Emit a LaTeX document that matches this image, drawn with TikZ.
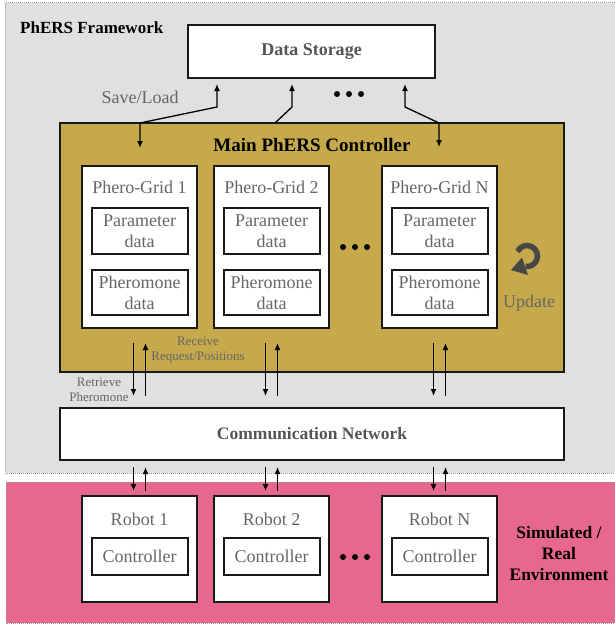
\documentclass[tikz,border=0pt]{standalone}
\usepackage{fontspec}
\setmainfont{Liberation Serif}
\usetikzlibrary{arrows.meta,calc}

\definecolor{frameworkgray}{HTML}{E0E0E0}
\definecolor{ctrlgold}{HTML}{C5A94A}
\definecolor{envpink}{HTML}{E8678C}
\definecolor{labelgray}{HTML}{666666}
\definecolor{titlegray}{HTML}{555555}
\definecolor{icongray}{HTML}{474747}

\newcommand{\fs}[2]{\fontsize{#1}{#2}\selectfont}

\tikzset{
  box/.style={draw=black!90, line width=2pt, fill=white, inner sep=0pt},
  innerbox/.style={draw=black!90, line width=2pt, fill=white, inner sep=0pt,
    minimum width=96pt, align=center, text=labelgray, font=\fs{18}{21}},
  plainlabel/.style={text=labelgray, font=\fs{18}{20}, inner sep=0pt, align=center},
  smalllabel/.style={text=labelgray, font=\fs{13}{15}, inner sep=0pt, align=center},
  flow/.style={line width=1.3pt, -{Latex[length=7pt,width=6pt]}},
  twoway/.style={line width=1.3pt, {Latex[length=7pt,width=6pt]}-{Latex[length=7pt,width=6pt]}},
  region/.style={draw=gray!80, densely dotted, line width=1pt},
  dotmark/.style={circle, fill=black, inner sep=0pt, minimum size=6pt}
}

\begin{document}
\begin{tikzpicture}[x=1pt, y=-1pt]
\useasboundingbox (0,0) rectangle (615,626);
\begin{scope}
\clip (0,0) rectangle (615,626);
% outer regions
\draw[region, fill=frameworkgray] (5,3) rectangle (640,473);
\draw[region, fill=envpink] (6,482) rectangle (640,623);
\end{scope}

\node[anchor=west, font=\bfseries\fs{17}{20}, inner sep=0pt] (fwlabel) at (20,28) {PhERS Framework};

% storage
\node[box, minimum width=247pt, minimum height=53pt, text=titlegray, font=\bfseries\fs{18}{20}] (store) at (311.5,51.5) {Data Storage};
\node[plainlabel] (savelabel) at (140,97) {Save/Load};

% main controller
\node[box, fill=ctrlgold, minimum width=504pt, minimum height=249pt] (ctrl) at (312,247.5) {};
\node[font=\bfseries\fs{19}{21}, inner sep=0pt] (ctrltitle) at (312,145) {Main PhERS Controller};

% phero-grids
\foreach \id/\cx/\lab in {g1/139.5/Phero-Grid 1, g2/271.5/Phero-Grid 2, gn/439.5/Phero-Grid N}{
  \node[box, minimum width=115pt, minimum height=162pt] (\id) at (\cx,247) {};
  \node[plainlabel] (\id t) at (\cx,187) {\lab};
  \node[innerbox, minimum height=46pt] (\id p) at (\cx,231) {Parameter\\data};
  \node[innerbox, minimum height=45pt] (\id h) at (\cx,292.5) {Pheromone\\data};
}

% update icon: clockwise ring open on the left, head at lower left
\coordinate (updc) at (527,256);
\draw[icongray, line width=5.5pt] ($(updc)+(205:10.5)$) arc[start angle=205, end angle=458, radius=10.5];
\fill[icongray] (511,270) -- (522,257.5) -- (528,275) -- cycle;
\node[plainlabel] (updlabel) at (529,303) {Update};

% communication network
\node[box, minimum width=504pt, minimum height=52pt, text=titlegray, font=\bfseries\fs{17.5}{20}] (comm) at (312,434) {Communication Network};

% robots
\foreach \id/\cx/\lab in {r1/139.5/Robot 1, r2/271.5/Robot 2, rn/439.5/Robot N}{
  \node[box, minimum width=115pt, minimum height=106pt] (\id) at (\cx,549) {};
  \node[plainlabel] (\id t) at (\cx,519) {\lab};
  \node[innerbox, minimum height=37pt] (\id c) at (\cx,556.5) {Controller};
}

\node[font=\bfseries\fs{17.5}{21}, align=center, inner sep=0pt] (envlabel) at (559,554) {Simulated /\\Real\\Environment};

% ellipsis dots
\foreach \y/\cx in {94/349, 247/355, 557/355}{
  \node[dotmark] at (\cx-12,\y) {};
  \node[dotmark] at (\cx,\y) {};
  \node[dotmark] at (\cx+12,\y) {};
}

% storage <-> controller
\coordinate (s1) at (217,107);
\coordinate (s2) at (292,107);
\coordinate (s3) at (405,107);
\draw[twoway] ($(store.south -| s1)+(0,5)$) -- (s1) -- (140,123) -- (140,148);
\draw[flow] (275,123) -- (s2) -- ($(store.south -| s2)+(0,5)$);
\draw[twoway] ($(store.south -| s3)+(0,5)$) -- (s3) -- (439,123) -- (439,147);

% controller <-> network
\foreach \g in {g1,g2,gn}{
  \draw[flow] ($(\g.south)+(-6,14)$) -- ($(\g.south)+(-6,67)$);
  \draw[flow] ($(\g.south)+(6,67)$) -- ($(\g.south)+(6,14)$);
}
\node[smalllabel] (recvlabel) at (198,350) {Receive\\Request/Positions};
\node[smalllabel] (retrlabel) at (99,390) {Retrieve\\Pheromone};

% network <-> robots
\foreach \r in {r1,r2,rn}{
  \draw[flow] ($(comm.south -| \r.north)+(-6,6)$) -- ($(\r.north)+(-6,-4)$);
  \draw[flow] ($(\r.north)+(6,-4)$) -- ($(comm.south -| \r.north)+(6,6)$);
}
\end{tikzpicture}
\end{document}
